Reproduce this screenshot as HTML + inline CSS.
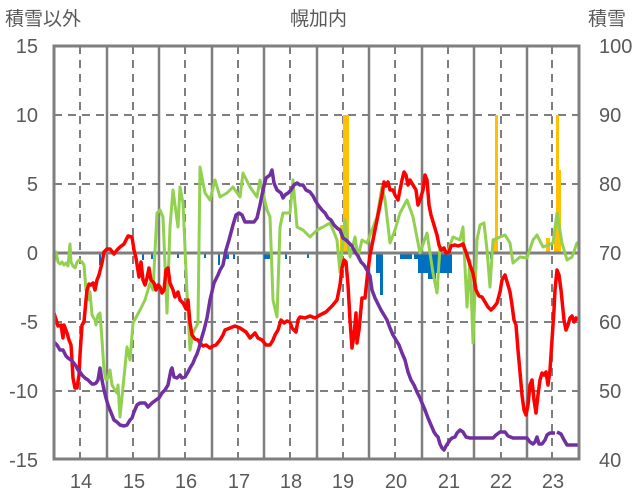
<!DOCTYPE html>
<html><head><meta charset="utf-8"><style>
body{margin:0;background:#fff}
svg{display:block;font-family:"Liberation Sans","Noto Sans CJK JP",sans-serif}
</style></head><body>
<svg width="636" height="501" viewBox="0 0 636 501">
<g stroke="#7f7f7f" stroke-width="2" stroke-dasharray="8,6" fill="none">
<line x1="54" y1="115" x2="579" y2="115"/><line x1="54" y1="184" x2="579" y2="184"/>
<line x1="54" y1="322" x2="579" y2="322"/><line x1="54" y1="391" x2="579" y2="391"/>
<line x1="80" y1="46" x2="80" y2="459"/><line x1="133" y1="46" x2="133" y2="459"/>
<line x1="185" y1="46" x2="185" y2="459"/><line x1="238" y1="46" x2="238" y2="459"/>
<line x1="290" y1="46" x2="290" y2="459"/><line x1="343" y1="46" x2="343" y2="459"/>
<line x1="395" y1="46" x2="395" y2="459"/><line x1="448" y1="46" x2="448" y2="459"/>
<line x1="501" y1="46" x2="501" y2="459"/><line x1="552" y1="46" x2="552" y2="459"/>
</g>
<g stroke="#7f7f7f" stroke-width="2.5">
<line x1="107" y1="46" x2="107" y2="459"/><line x1="159" y1="46" x2="159" y2="459"/>
<line x1="212" y1="46" x2="212" y2="459"/><line x1="264" y1="46" x2="264" y2="459"/>
<line x1="317" y1="46" x2="317" y2="459"/><line x1="369" y1="46" x2="369" y2="459"/>
<line x1="422" y1="46" x2="422" y2="459"/><line x1="474" y1="46" x2="474" y2="459"/>
<line x1="527" y1="46" x2="527" y2="459"/>
</g>
<g fill="#ffc000">
<rect x="343" y="115" width="6" height="138"/><rect x="495" y="115" width="3" height="138"/>
<rect x="556" y="115" width="3" height="138"/><rect x="558" y="170" width="3" height="83"/>
<rect x="554" y="225" width="3" height="28"/><rect x="546" y="238" width="4" height="15"/>
<rect x="340" y="225" width="3" height="28"/><rect x="493" y="238" width="3" height="15"/>
</g>
<g fill="#0070c0">
<rect x="99" y="253" width="2" height="12"/><rect x="142" y="253" width="2" height="7"/><rect x="151" y="253" width="2" height="6"/>
<rect x="177" y="253" width="2" height="5"/><rect x="184" y="253" width="2" height="5"/><rect x="204" y="253" width="2" height="5"/>
<rect x="218" y="253" width="2" height="12"/><rect x="226" y="253" width="3" height="6"/><rect x="233" y="253" width="2" height="6"/>
<rect x="264" y="253" width="6" height="6"/><rect x="285" y="253" width="2" height="6"/><rect x="307" y="253" width="2" height="5"/>
<rect x="307" y="253" width="2" height="5"/><rect x="376" y="253" width="6" height="20"/><rect x="380" y="253" width="3" height="42"/>
<rect x="400" y="253" width="12" height="6"/><rect x="414" y="253" width="6" height="6"/><rect x="418" y="253" width="10" height="20"/>
<rect x="428" y="253" width="8" height="26"/><rect x="436" y="253" width="6" height="20"/><rect x="442" y="253" width="10" height="20"/>
<rect x="490" y="253" width="2" height="6"/><rect x="307" y="253" width="2" height="5"/>
</g>
<line x1="54" y1="253" x2="579" y2="253" stroke="#7f7f7f" stroke-width="3"/>
<g fill="none" stroke-width="3.5" stroke-linejoin="round">
<polyline stroke="#92d050" stroke-width="3" points="54,262 56,252 58,262 60,264 62,262 64,265 66,263 68,266 69,255 70,244 71,262 73,266 75,268 77,262 79,260 82,262 84,265 86,290 88,288 89,300 90,292 92,315 95,320 96,325 98,315 100,313 102,340 104,370 106,380 108,378 110,370 112,385 115,390 117,393 118,385 120,417 127,347 130,360 133,323 140,310 145,300 150,283 153,290 157,213 160,210 163,217 167,313 170,227 173,190 178,227 180,187 183,203 187,293 190,350 193,333 198,323 200,167 205,193 210,200 215,180 220,197 227,193 233,187 240,197 243,173 250,187 257,197 260,180 267,210 270,217 273,300 277,317 280,227 283,213 290,213 293,180 297,227 303,230 310,237 317,230 323,227 330,223 333,230 337,240 340,272 345,220 350,257 355,237 358,257 362,240 367,243 372,230 377,217 382,187 385,200 390,243 395,230 400,213 407,200 413,217 420,253 427,233 433,273 437,293 440,247 447,253 453,237 460,240 463,227 467,307 470,260 473,343 477,240 480,225 484,223 487,250 490,287 493,240 500,237 505,235 510,243 513,263 520,257 527,258 533,240 537,235 543,247 553,243 557,213 562,243 567,260 572,257 577,243 580,243"/>
<polyline stroke="#ff0000" points="54,313 58,326 61,325 63,338 64,325 67,333 69,340 71,345 72,360 73,378 75,388 77,388 79,375 80,355 82,325 84,322 86,300 87,290 89,284 91,285 93,283 95,290 97,280 99,275 102,263 104,252 107,249 110,249 114,254 117,250 120,247 124,244 126,240 128,236 132,237 134,250 136,258 139,277 141,262 143,280 145,285 147,278 149,268 151,280 154,283 156,290 158,285 160,287 162,293 164,290 166,270 168,268 170,283 173,290 175,297 178,292 180,300 183,303 186,309 188,300 190,323 192,335 195,339 198,340 200,343 203,346 206,345 210,348 213,346 216,345 220,340 223,335 225,330 230,328 235,326 240,328 243,330 246,332 250,338 255,333 258,338 262,340 266,345 270,345 273,340 275,335 278,330 281,320 284,323 287,321 290,322 292,328 296,332 298,320 300,317 305,318 310,316 315,318 320,315 326,312 332,306 337,300 340,285 342,268 344,260 346,262 348,285 350,320 352,348 354,335 356,313 357,343 359,330 362,298 365,298 368,270 370,255 373,240 376,225 378,215 380,205 382,195 384,182 386,186 388,182 390,190 393,190 395,195 398,200 400,190 402,180 404,172 406,175 408,185 410,180 413,185 416,190 418,205 420,200 423,190 425,175 427,180 429,205 431,215 434,225 437,235 439,245 441,250 444,248 446,253 449,252 451,246 455,245 458,246 461,245 463,244 467,255 470,265 473,273 476,290 479,296 482,297 485,302 488,307 491,310 494,307 497,303 500,292 502,280 505,275 508,285 510,292 512,305 514,320 516,325 518,350 520,372 522,395 524,410 526,415 528,405 530,385 532,380 534,400 536,413 538,395 540,380 542,373 544,375 546,372 548,385 550,370 552,340 554,310 555,290 557,270 559,275 561,290 562,300 564,320 566,330 568,325 570,318 572,316 574,322 576,318 578,320"/>
<polyline stroke="#7030a0" points="54,342 57,345 60,350 63,350 66,356 68,358 71,360 73,362 76,366 78,370 80,372 82,375 85,378 88,380 90,382 92,384 94,384 96,383 98,380 100,368 102,380 104,390 106,398 108,405 110,410 112,415 114,420 117,422 120,425 124,426 127,425 130,420 132,418 134,412 137,405 140,403 145,403 148,407 152,403 156,400 159,398 162,393 165,390 168,385 171,370 172,368 174,377 177,378 180,375 182,378 185,377 188,372 190,368 193,363 195,358 197,354 199,348 201,340 204,330 207,318 210,300 214,283 218,275 220,270 223,265 226,250 229,240 233,225 236,215 239,213 242,215 245,222 250,222 254,222 257,218 260,205 263,190 266,178 270,175 272,170 274,183 277,190 281,193 283,198 285,195 288,193 291,190 294,185 297,183 300,185 303,185 306,190 310,192 313,196 315,200 318,205 322,210 325,213 328,218 331,220 334,225 337,228 340,230 343,238 346,240 349,243 352,246 355,252 358,256 361,262 364,265 367,270 370,276 372,290 375,298 378,304 381,310 384,315 387,320 390,328 393,335 396,340 399,345 402,353 405,360 408,372 411,380 414,385 417,392 420,398 422,403 425,410 428,418 431,425 434,432 436,435 438,437 440,444 442,448 444,450 446,446 448,443 450,440 452,438 455,437 457,433 460,430 463,432 466,437 470,438 475,438 480,438 485,438 490,438 493,438 496,435 500,432 505,432 508,436 513,438 518,438 523,438 527,438 530,442 533,444 535,442 537,437 539,444 542,444 545,440 547,435 550,433 555,433"/>
<polyline stroke="#7030a0" points="557,432 561,434 563,438 567,445 575,445 579,445"/>
</g>
<rect x="54" y="46" width="525" height="413" fill="none" stroke="#7f7f7f" stroke-width="3"/>
<g fill="#595959" font-size="20" text-anchor="end">
<text x="38" y="53">15</text><text x="38" y="122">10</text><text x="38" y="191">5</text>
<text x="38" y="260">0</text><text x="38" y="329">-5</text><text x="38" y="398">-10</text><text x="38" y="467">-15</text>
</g>
<g fill="#595959" font-size="20" text-anchor="start">
<text x="599" y="53">100</text><text x="599" y="122">90</text><text x="599" y="191">80</text>
<text x="599" y="260">70</text><text x="599" y="329">60</text><text x="599" y="398">50</text><text x="599" y="467">40</text>
</g>
<g fill="#595959" font-size="20" text-anchor="middle">
<text x="81" y="488">14</text><text x="134" y="488">15</text><text x="186" y="488">16</text><text x="239" y="488">17</text>
<text x="291" y="488">18</text><text x="343" y="488">19</text><text x="396" y="488">20</text><text x="449" y="488">21</text>
<text x="501" y="488">22</text><text x="553" y="488">23</text>
</g>
<g fill="#595959" font-size="19">
<text x="5" y="25">積雪以外</text><text x="290" y="25">幌加内</text><text x="588" y="25">積雪</text>
</g>
</svg>
</body></html>
